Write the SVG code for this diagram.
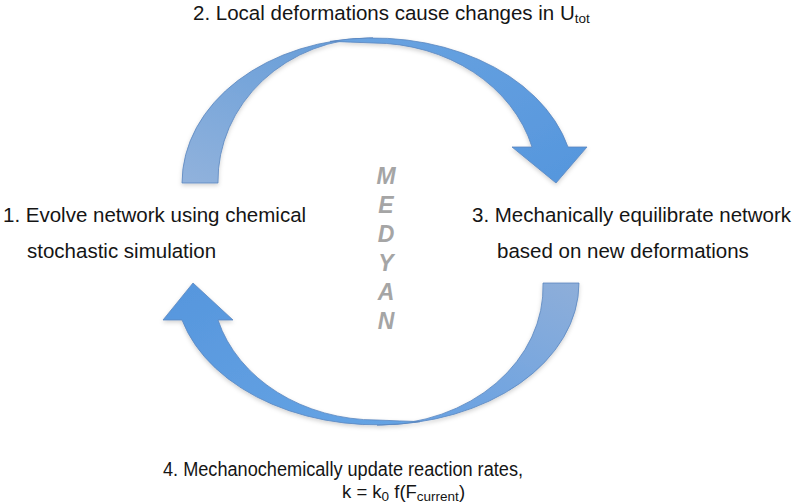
<svg xmlns="http://www.w3.org/2000/svg" width="799" height="504" viewBox="0 0 799 504">
<defs>
  <linearGradient id="gTopTail" x1="0" y1="1" x2="0.6" y2="0">
    <stop offset="0" stop-color="#91b2dc"/>
    <stop offset="1" stop-color="#6a9fd9"/>
  </linearGradient>
  <linearGradient id="gTopHead" x1="0" y1="0" x2="1" y2="1">
    <stop offset="0" stop-color="#6aa3e0"/>
    <stop offset="1" stop-color="#5596dd"/>
  </linearGradient>
  <linearGradient id="gBotTail" x1="1" y1="0" x2="0.4" y2="1">
    <stop offset="0" stop-color="#8eaed9"/>
    <stop offset="1" stop-color="#6aa2e2"/>
  </linearGradient>
  <linearGradient id="gBotHead" x1="0" y1="0" x2="1" y2="1">
    <stop offset="0" stop-color="#5696dd"/>
    <stop offset="1" stop-color="#66a4e4"/>
  </linearGradient>
  <filter id="shadow" x="-10%" y="-10%" width="120%" height="130%">
    <feDropShadow dx="0" dy="2" stdDeviation="2" flood-color="#000" flood-opacity="0.18"/>
  </filter>
</defs>
<style>
  .arrow { stroke: #5a86bf; stroke-width: 0.8; stroke-linejoin: round; }
  .label { font-family: "Liberation Sans", Arial, sans-serif; font-size: 20.5px; fill: #151515; }
  .small { font-size: 20px; }
  .formula { font-size: 18.5px; }
  .sub { font-size: 13.5px; }
  .logo { font-family: "Liberation Sans", Arial, sans-serif; font-size: 23px; font-weight: bold; font-style: italic; fill: #a5a5a5; text-anchor: middle; }
</style>

<g id="connectors" filter="url(#shadow)">
  <g id="arrow-top">
    <path class="arrow" fill="url(#gTopTail)" d="M182,183 A191,145 0 0 1 373,38 A155,143 0 0 0 218,183 Z"/>
    <path class="arrow" fill="url(#gTopHead)" d="M330,41.4 A201,145 0 0 1 568,147 L587,147 L556,183 L512,147 L532,147 A165,140 0 0 0 373,43 Q350,42 330,41.4 Z"/>
  </g>
  <g id="arrow-bottom">
    <path class="arrow" fill="url(#gBotTail)" d="M579,283 A202,142 0 0 1 377,425 A166,138 0 0 0 543,283 Z"/>
    <path class="arrow" fill="url(#gBotHead)" d="M420,421.6 A202,142 0 0 1 182,320 L163,320 L193,283 L233,320 L218,320 A165,137 0 0 0 377,420 Q400,421 420,421.6 Z"/>
  </g>
</g>

<g id="node-medyan">
  <text class="logo" x="386" y="184">M</text>
  <text class="logo" x="386" y="213">E</text>
  <text class="logo" x="386" y="242">D</text>
  <text class="logo" x="386" y="271">Y</text>
  <text class="logo" x="386" y="300">A</text>
  <text class="logo" x="386" y="329">N</text>
</g>

<g id="node-step2">
  <text class="label" x="193" y="20">2. Local deformations cause changes in U<tspan class="sub" dy="3">tot</tspan></text>
</g>

<g id="node-step1">
  <text class="label" x="3" y="222">1. Evolve network using chemical</text>
  <text class="label" x="27" y="258">stochastic simulation</text>
</g>

<g id="node-step3">
  <text class="label" x="472" y="222">3. Mechanically equilibrate network</text>
  <text class="label" x="497" y="258">based on new deformations</text>
</g>

<g id="node-step4">
  <text class="label small" x="163" y="476" textLength="360" lengthAdjust="spacingAndGlyphs">4. Mechanochemically update reaction rates,</text>
  <text class="label formula" x="342" y="498">k = k<tspan class="sub" dy="3">0</tspan><tspan dy="-3"> f(F</tspan><tspan class="sub" dy="3">current</tspan><tspan dy="-3">)</tspan></text>
</g>
</svg>
